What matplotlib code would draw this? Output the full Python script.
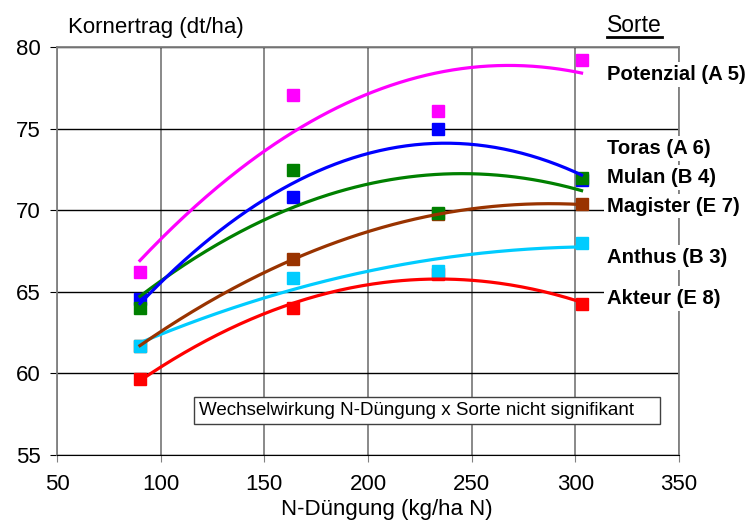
import numpy as np
import matplotlib
matplotlib.use("Agg")
import matplotlib.pyplot as plt
from matplotlib.patches import Rectangle
from matplotlib.lines import Line2D

plt.rcParams['font.family'] = ['Liberation Sans', 'DejaVu Sans']

# N-Düngung (kg/ha N)
n_dose = [90, 164, 234, 303]

# Kornertrag (dt/ha) per Sorte
sorten = ["Potenzial (A 5)", "Toras (A 6)", "Mulan (B 4)", "Magister (E 7)", "Anthus (B 3)", "Akteur (E 8)"]
potenzial = [66.2, 77.05, 76.1, 79.2]
toras = [64.55, 70.8, 75.0, 71.85]
mulan = [64.0, 72.45, 69.85, 72.0]
magister = [61.7, 67.0, 69.75, 70.35]
anthus = [61.65, 65.85, 66.3, 68.0]
akteur = [59.65, 64.0, 66.1, 64.25]

colors = {"Potenzial (A 5)": "#FF00FF", "Toras (A 6)": "#0000FF", "Mulan (B 4)": "#008000",
          "Magister (E 7)": "#993300", "Anthus (B 3)": "#00CCFF", "Akteur (E 8)": "#FF0000"}
values = {"Potenzial (A 5)": potenzial, "Toras (A 6)": toras, "Mulan (B 4)": mulan,
          "Magister (E 7)": magister, "Anthus (B 3)": anthus, "Akteur (E 8)": akteur}
label_y = {"Potenzial (A 5)": 78.3, "Toras (A 6)": 73.8, "Mulan (B 4)": 72.0,
           "Magister (E 7)": 70.25, "Anthus (B 3)": 67.1, "Akteur (E 8)": 64.6}

fig = plt.figure(figsize=(7.51, 5.21), dpi=100)
ax = fig.add_axes([57/751, 1-455/521, 622/751, 408/521])

# markers (drawing order decides overlap)
marker_order = ["Akteur (E 8)", "Toras (A 6)", "Magister (E 7)", "Mulan (B 4)", "Anthus (B 3)", "Potenzial (A 5)"]
for s in marker_order:
    ax.plot(n_dose, values[s], linestyle='none', marker='s', markersize=8.8,
            color=colors[s], zorder=3)

# polynomial trendlines (order 2) over the data range
xs = np.linspace(min(n_dose), max(n_dose), 200)
line_order = ["Akteur (E 8)", "Anthus (B 3)", "Magister (E 7)", "Mulan (B 4)", "Toras (A 6)", "Potenzial (A 5)"]
for s in line_order:
    c = np.polyfit(n_dose, values[s], 2)
    ax.plot(xs, np.polyval(c, xs), color=colors[s], linewidth=2.3, zorder=4)

for s in sorten:
    ax.text(315.3, label_y[s], s, fontsize=14.6, fontweight='bold', va='center', ha='left',
            bbox=dict(facecolor='white', edgecolor='none', pad=2), zorder=6, clip_on=False)

ax.set_xlim(50, 350)
ax.set_ylim(55, 80)
ax.set_xticks(range(50, 351, 50))
ax.set_yticks(range(55, 81, 5))
ax.tick_params(axis='both', labelsize=16, length=5, direction='out')
ax.tick_params(axis='x', color='#808080', pad=9)
ax.tick_params(axis='y', color='black', pad=7)
ax.grid(axis='y', color='black', linewidth=1)
ax.grid(axis='x', color='#808080', linewidth=1.3)
ax.set_axisbelow(True)
for side in ['left', 'top', 'right']:
    ax.spines[side].set_color('#808080')
    ax.spines[side].set_linewidth(1.3)
ax.spines['bottom'].set_color('black')

# note box
ax.add_patch(Rectangle((0.2203, 0.076), 0.7492, 0.066, transform=ax.transAxes,
                       facecolor='white', edgecolor='#404040', linewidth=1, zorder=5))
ax.text(0.228, 0.109, "Wechselwirkung N-Düngung x Sorte nicht signifikant", transform=ax.transAxes,
        fontsize=13.5, va='center', ha='left', zorder=6)

fig.text(68/751, 1-28/521, "Kornertrag (dt/ha)", fontsize=16, va='center', ha='left')
fig.text(387/751, 1-510/521, "N-Düngung (kg/ha N)", fontsize=16, va='center', ha='center')
sorte = fig.text(607/751, 1-26/521, "Sorte", fontsize=16.5, va='center', ha='left')

fig.canvas.draw()
bb = sorte.get_window_extent()
uy = bb.y0 + 0.5
fig.add_artist(Line2D([bb.x0, bb.x1], [uy, uy], transform=None, color='black', linewidth=2))

fig.savefig("out.png", dpi=100)
